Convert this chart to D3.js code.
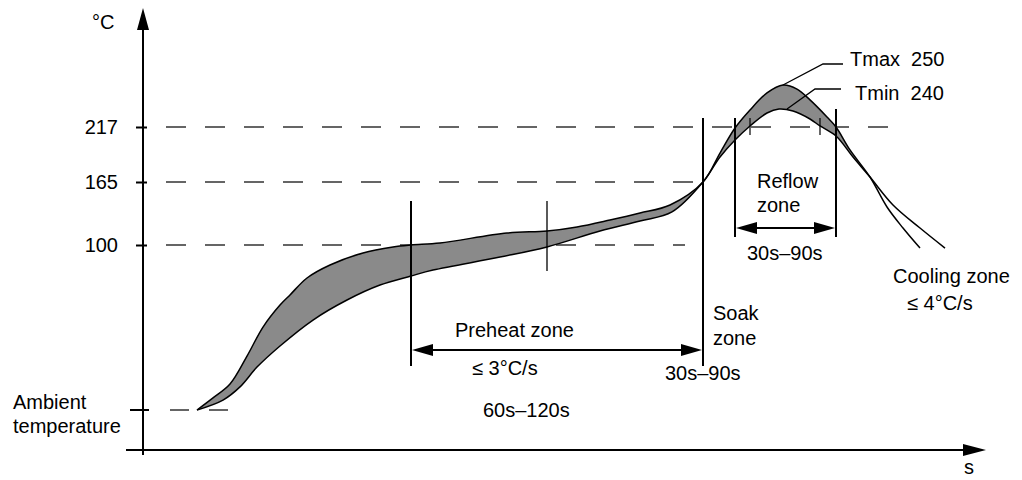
<!DOCTYPE html>
<html>
<head>
<meta charset="utf-8">
<script src="https://cdn.jsdelivr.net/npm/d3@7"></script>
<style>
  body { margin: 0; background: #fff; }
  svg text { font-family: "Liberation Sans", Arial, sans-serif; font-size: 20px; fill: #000; }
</style>
</head>
<body>
<svg id="chart" width="1022" height="480"></svg>
<script>
// schematic reflow profile: time in s, temperature in degC

// upper edge of the process window (Tmax 250)
var tmaxTime = [27, 35, 43.5, 52, 60, 68.5, 73.5, 82, 93.5, 110,
                125, 134, 148.5, 182, 202, 217, 233.5, 248.5, 263.5, 280,
                288.5, 296, 303.5, 312, 320, 327, 333.5, 342, 346.5, 353.5,
                363.5, 372, 380, 388.5];
var tmaxTemp = [25, 30.5, 36.8, 49.5, 62.7, 72.7, 77.3, 85, 90.9, 96.4,
                99.1, 100, 102.1, 112.4, 114.4, 118.6, 125.8, 133, 141.3, 165,
                192.4, 216, 238.7, 246.7, 250, 248.3, 243.8, 229.8, 217, 195.3,
                169.7, 139.2, 117.5, 98.6];

// lower edge of the process window (Tmin 240)
var tminTime = [27, 40, 48.5, 57, 68.5, 85, 102, 118.5, 134, 145,
                178.5, 202, 228.5, 248.5, 264.5, 280, 288.5, 296, 303.5, 312,
                318, 325, 333.5, 338.5, 346.5, 355, 363.5, 375, 388.5, 401];
var tminTemp = [25, 29.5, 35.5, 44.5, 54.1, 65.9, 75, 81.8, 85.9, 88.6,
                94.5, 99.1, 114.4, 124.8, 134.1, 165, 188.6, 204.7, 218.3, 234.9,
                240, 237.4, 227.2, 218.3, 208.5, 188.6, 169.7, 141.3, 117.5, 98.6];

var levelTicks = [217, 165, 100];        // degC, labelled on the axis
var levelEnds = [373.5, 280, 271];       // s, where each dashed level stops
var ambient = 25;                        // degC
var crossTime = 363.5;                   // s, curves cross again while cooling

var preheatStart = 134, preheatMid = 202, soakStart = 280;  // s
var reflowStart = 296, reflowEnd = 346.5;                   // s, Tmax above 217
var tminCross = [303.5, 338.5];                             // s, Tmin above 217

var svg = d3.select('#chart');

var x = d3.scaleLinear().domain([0, 420]).range([143, 983]);
var y = d3.scaleLinear()
  .domain([25, 100, 165, 217, 240, 250])
  .range([410, 245, 182, 127, 109, 85]);

var axisY = 450;

var tmax = tmaxTime.map(function(t, i) { return [t, tmaxTemp[i]]; });
var tmin = tminTime.map(function(t, i) { return [t, tminTemp[i]]; });

var lineGen = d3.line()
  .curve(d3.curveCatmullRom.alpha(0.5))
  .x(function(d) { return x(d[0]); })
  .y(function(d) { return y(d[1]); });

function arrowHead(g, tx, ty, dir, len, half) {
  var p;
  if (dir === 'up')    p = [[tx, ty], [tx - half, ty + len], [tx + half, ty + len]];
  if (dir === 'right') p = [[tx, ty], [tx - len, ty - half], [tx - len, ty + half]];
  if (dir === 'left')  p = [[tx, ty], [tx + len, ty - half], [tx + len, ty + half]];
  g.append('path')
    .attr('d', 'M' + p.join('L') + 'Z')
    .attr('fill', '#000');
}

//
//  dashed reference levels
//
svg.append('g')
  .attr('id', 'levels')
.selectAll('line')
.data(levelTicks)
.enter().append('line')
  .attr('x1', x(0) + 23)
  .attr('x2', function(d, i) { return x(levelEnds[i]); })
  .attr('y1', function(d) { return y(d); })
  .attr('y2', function(d) { return y(d); })
  .attr('stroke', '#333')
  .attr('stroke-width', 1.6)
  .attr('stroke-dasharray', '20 19');

svg.append('line')
  .attr('x1', x(0) + 27).attr('x2', x(0) + 86)
  .attr('y1', y(ambient)).attr('y2', y(ambient))
  .attr('stroke', '#333')
  .attr('stroke-width', 1.6)
  .attr('stroke-dasharray', '19 20');

//
//  process window
//
var upperPart = tmax.filter(function(d) { return d[0] <= crossTime; });
var lowerPart = tmin.filter(function(d) { return d[0] <= crossTime; }).reverse();

svg.append('path')
  .attr('d', lineGen(upperPart) + lineGen(lowerPart).replace(/^M/, 'L') + 'Z')
  .attr('fill', '#8a8a8a')
  .attr('stroke', 'none');

svg.append('g')
  .attr('id', 'curves')
.selectAll('path')
.data([tmax, tmin])
.enter().append('path')
  .attr('d', lineGen)
  .attr('fill', 'none')
  .attr('stroke', '#000')
  .attr('stroke-width', 1.5);

//
//  axes
//
var yAxis = d3.axisLeft(y)
  .tickValues(levelTicks)
  .tickSize(0)
  .tickPadding(25)
  .tickFormat(d3.format('d'));

var gy = svg.append('g')
  .attr('id', 'yAxis')
  .attr('transform', 'translate(' + x(0) + ',0)')
  .call(yAxis);
gy.select('.domain').remove();
gy.selectAll('text')
  .attr('font-size', 20)
  .attr('font-family', '"Liberation Sans", Arial, sans-serif')
  .attr('fill', '#000');
gy.selectAll('.tick line')
  .attr('x1', -7).attr('x2', 4)
  .attr('stroke', '#000').attr('stroke-width', 2);

svg.append('line')
  .attr('x1', x(0) - 13).attr('x2', x(0) + 6)
  .attr('y1', y(ambient)).attr('y2', y(ambient))
  .attr('stroke', '#000').attr('stroke-width', 2);

var axes = svg.append('g').attr('id', 'axes');
axes.append('line')
  .attr('x1', x(0)).attr('x2', x(0))
  .attr('y1', axisY + 5).attr('y2', 28)
  .attr('stroke', '#000').attr('stroke-width', 2);
arrowHead(axes, x(0), 8, 'up', 22, 6);

axes.append('line')
  .attr('x1', x(0) - 17).attr('x2', 965)
  .attr('y1', axisY).attr('y2', axisY)
  .attr('stroke', '#000').attr('stroke-width', 2);
arrowHead(axes, 986, axisY, 'right', 23, 6);

//
//  zone markers
//
var zones = svg.append('g').attr('id', 'zones');

function vline(t, y1, y2, w) {
  zones.append('line')
    .attr('x1', x(t)).attr('x2', x(t))
    .attr('y1', y1).attr('y2', y2)
    .attr('stroke', '#000').attr('stroke-width', w);
}

vline(preheatStart, y(145.4), y(45), 2);
vline(preheatMid, y(145.4), y(88.2), 1.3);
vline(soakStart, y(228.5), y(45), 2);
vline(reflowStart, y(228.5), y(108.3), 2);
vline(reflowEnd, y(240), y(108.3), 2);
tminCross.forEach(function(t) { vline(t, y(228.5), y(209.4), 1.2); });

function spanArrow(t1, t2, yy) {
  zones.append('line')
    .attr('x1', x(t1) + 10).attr('x2', x(t2) - 10)
    .attr('y1', yy).attr('y2', yy)
    .attr('stroke', '#000').attr('stroke-width', 2.2);
  arrowHead(zones, x(t1) + 1, yy, 'left', 21, 6);
  arrowHead(zones, x(t2) - 1, yy, 'right', 21, 6);
}
spanArrow(preheatStart, soakStart, 350);
spanArrow(reflowStart, reflowEnd, 228);

// leader lines to the peak labels
var pMax = [x(320), y(250)];
var pMin = [x(320) + 4, y(240)];
zones.append('path')
  .attr('d', 'M' + pMax + 'L' + [pMax[0] + 40, pMax[1] - 21] + 'L' + [pMax[0] + 60, pMax[1] - 21])
  .attr('fill', 'none').attr('stroke', '#000').attr('stroke-width', 1.3);
zones.append('path')
  .attr('d', 'M' + pMin + 'L' + [pMin[0] + 28, pMin[1] - 20] + 'L' + [pMin[0] + 54, pMin[1] - 20])
  .attr('fill', 'none').attr('stroke', '#000').attr('stroke-width', 1.3);

//
//  texts
//
var labels = [
  ['\u00B0C', 92, 29],
  ['s', 964, 474],
  ['Ambient', 13, 409],
  ['temperature', 13, 433],
  ['Preheat zone', 455, 337],
  ['\u2264 3\u00B0C/s', 472, 375],
  ['60s\u2013120s', 483, 417],
  ['Soak', 713, 320],
  ['zone', 713, 345],
  ['30s\u201390s', 665, 380],
  ['Reflow', 757, 188],
  ['zone', 757, 212],
  ['30s\u201390s', 747, 260],
  ['Tmax  250', 850, 66],
  ['Tmin  240', 855, 100],
  ['Cooling zone', 893, 283],
  ['\u2264 4\u00B0C/s', 907, 310]
];

svg.append('g')
  .attr('id', 'labels')
.selectAll('text')
.data(labels)
.enter().append('text')
  .attr('x', function(d) { return d[1]; })
  .attr('y', function(d) { return d[2]; })
  .style('white-space', 'pre')
  .text(function(d) { return d[0]; });
</script>
</body>
</html>
